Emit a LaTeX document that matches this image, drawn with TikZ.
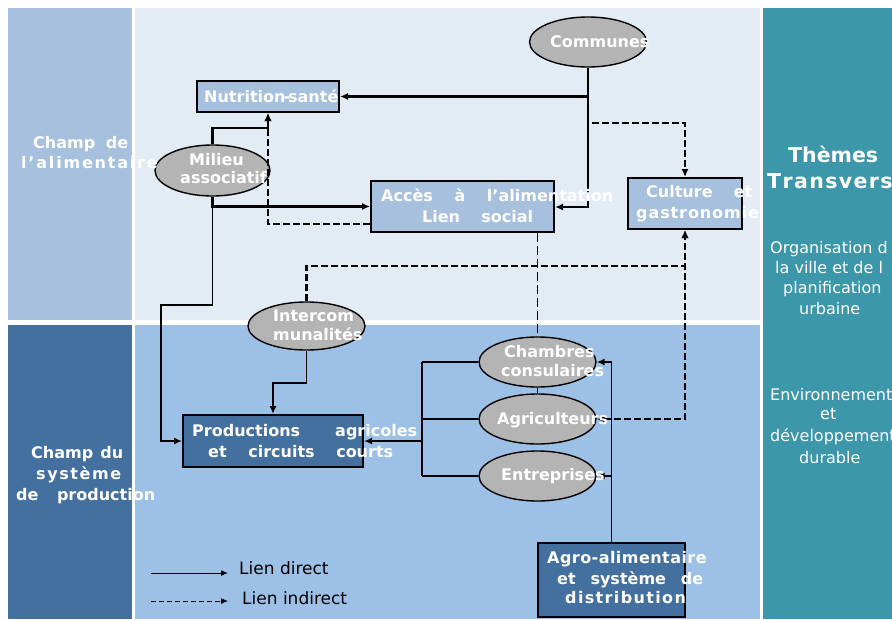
\documentclass[tikz,border=0pt]{standalone}
\usepackage{fontspec}
\setmainfont{DejaVu Sans}
\usetikzlibrary{arrows.meta,shapes.geometric}
\definecolor{cLU}{HTML}{A6C0DE}
\definecolor{cMU}{HTML}{E3EBF5}
\definecolor{cLL}{HTML}{44709F}
\definecolor{cML}{HTML}{9DC0E6}
\definecolor{cRT}{HTML}{3D97AB}
\definecolor{cEL}{HTML}{B4B4B4}
\makeatletter
\newcommand\lsp[2]{\@tfor\lsp@t:=#2\do{\lsp@t\kern#1}\unkern}
\makeatother
\newcommand\spr[2]{\makebox[#1][s]{#2}}
\begin{document}
\begin{tikzpicture}[x=1pt,y=-1pt,
  >={Latex[length=8pt,width=7pt]},
  ell/.style={ellipse, draw=black, line width=1.4pt, fill=cEL, minimum width=117pt, minimum height=50pt, inner sep=0pt},
  ubox/.style={rectangle, draw=black, line width=2pt, fill=cLU, inner sep=0pt},
  dbox/.style={rectangle, draw=black, line width=2pt, fill=cLL, inner sep=0pt},
  lb/.style={text=white, font=\bfseries\fontsize{16}{19}\selectfont, inner sep=0pt, anchor=base west},
  rt/.style={text=white, font=\fontsize{16}{19}\selectfont, inner sep=0pt, anchor=base west},
  ttl/.style={text=white, font=\bfseries\fontsize{20.5}{24}\selectfont, inner sep=0pt, anchor=base west},
  lg/.style={text=black, font=\fontsize{17}{20}\selectfont, inner sep=0pt, anchor=base west},
  lw3/.style={line width=2.4pt},
  lw2/.style={line width=1.7pt},
  lw1/.style={line width=1.1pt},
  dsh/.style={dash pattern=on 7pt off 3pt},
  dshl/.style={dash pattern=on 9pt off 4pt}
]
\useasboundingbox (0,0) rectangle (892,619);
% backgrounds
\fill[white] (0,0) rectangle (892,619);
\fill[cLU] (8,8) rectangle (132,320);
\fill[cMU] (135,8) rectangle (760,320);
\fill[cLL] (8,325) rectangle (132,619);
\fill[cML] (135,325) rectangle (760,619);
\fill[cRT] (763,8) rectangle (892,619);

% nodes
\node[ell] (com) at (588,42) {};
\node[ubox, minimum width=142pt, minimum height=31pt] (nut) at (268,96.5) {};
\node[ell, minimum width=115pt, minimum height=51pt] (mil) at (212.5,170.5) {};
\node[ubox, minimum width=183pt, minimum height=51pt] (acc) at (462.5,206.5) {};
\node[ubox, minimum width=114pt, minimum height=51pt] (cul) at (685,203.5) {};
\node[ell, minimum height=48pt] (int) at (306.5,326) {};
\node[dbox, minimum width=180pt, minimum height=52pt] (pro) at (273,441) {};
\node[ell] (cha) at (537.5,362) {};
\node[ell] (agr) at (537.5,419) {};
\node[ell] (ent) at (537.5,476) {};
\node[dbox, minimum width=147pt, minimum height=74pt] (ago) at (611.5,580) {};

% helper coordinates
\coordinate (j1) at (588,96.5);
\coordinate (bB) at (588,207);
\coordinate (c2) at (588,123);
\coordinate (dN) at (268,128);
\coordinate (fy) at (371,224);
\coordinate (g1) at (212.5,305);
\coordinate (g2) at (161,305);
\coordinate (h1) at (685,266);
\coordinate (bx) at (422,441);
\coordinate (k1) at (273,383);

% connectors
\draw[lw3,->] (com.south) -- (j1) -- (nut.east);
\draw[lw2,->] (j1) -- (bB) -- (bB -| acc.east);
\draw[lw3,dsh,->] (j1) -- (c2) -| (cul.north);
\draw[lw3,->] (mil.north) |- (dN) -- (nut.south);
\draw[lw3,->] (mil.south) |- (acc.west);
\draw[lw3,dsh,->] (acc.west |- fy) -| (nut.south);
\draw[lw2,->] (mil.south) -- (g1) -- (g2) |- (pro.west);
\draw[lw3,dsh,->] (int.north) |- (h1) -- (cul.south);
\draw[lw2,dsh,<->] (agr.east) -| (cul.south);
\draw[lw1,dshl] (cha.north |- acc.south) -- (cha.north);
\draw[lw1] (cha.south) -- (agr.north);
\draw[lw2] (cha.west) -- (cha.west -| bx);
\draw[lw2] (agr.west) -- (agr.west -| bx);
\draw[lw3] (ent.west) -- (ent.west -| bx);
\draw[lw3] (cha.west -| bx) -- (ent.west -| bx);
\draw[lw2,->] (bx) -- (pro.east);
\draw[lw2,->] (int.south) |- (k1) -- (pro.north);
\draw[lw2,->] (ago.north) |- (cha.east);
\draw[lw2,->] (ago.north |- ent.east) -- (ent.east);

% legend
\coordinate (la1) at (151,573);
\coordinate (la2) at (228,573);
\coordinate (lb1) at (151,601);
\coordinate (lb2) at (228,601);
\draw[line width=1pt,-{Latex[length=7pt,width=6pt]}] (la1) -- (la2);
\draw[line width=1pt,dash pattern=on 5pt off 3pt,-{Latex[length=7pt,width=6pt]}] (lb1) -- (lb2);
\node[lg] (tlg1) at (239,574) {Lien direct};
\node[lg] (tlg2) at (242,604) {Lien indirect};

% labels
\node[lb] (tcom) at (550,47) {Communes};
\node[lb] (tnut) at (204,102) {Nutrition\kern-2pt-\kern-2pt santé};
\node[lb] (tmil1) at (189,165) {Milieu};
\node[lb] (tmil2) at (180,183) {associatif};
\node[lb] (tacc1) at (381,201) {\spr{232pt}{Accès à l’alimentation}};
\node[lb] (tacc2) at (422,222) {\spr{111pt}{Lien social}};
\node[lb] (tcul1) at (646,197) {\spr{106pt}{Culture et}};
\node[lb] (tcul2) at (636,218) {\lsp{0.9pt}{gastronomie}};
\node[lb] (tint1) at (273,321) {Intercom};
\node[lb] (tint2) at (273,340) {munalités};
\node[lb] (tpro1) at (192,436) {\spr{225pt}{Productions agricoles}};
\node[lb] (tpro2) at (208,457) {\spr{185pt}{et circuits courts}};
\node[lb] (tcha1) at (504,357) {Chambres};
\node[lb] (tcha2) at (501,376) {consulaires};
\node[lb] (tagr) at (497,424) {Agriculteurs};
\node[lb] (tent) at (501,480) {Entreprises};
\node[lb] (tago1) at (547,563) {\lsp{0.45pt}{Agro-alimentaire}};
\node[lb] (tago2) at (557,584) {\spr{146pt}{et système de}};
\node[lb] (tago3) at (565,603) {\lsp{1.35pt}{distribution}};
\node[lb] (tl1) at (33,148) {\spr{95pt}{Champ de}};
\node[lb] (tl2) at (21,168) {\lsp{1.8pt}{l’alimentaire}};
\node[lb] (tl3) at (31,458) {\spr{92pt}{Champ du}};
\node[lb] (tl4) at (36,479) {\lsp{1.6pt}{système}};
\node[lb] (tl5) at (16,500) {\spr{139pt}{de production}};

\node[ttl] (tr1) at (788,162) {Thèmes};
\node[ttl] (tr2) at (767,188) {\lsp{1.4pt}{Transvers}};
\node[rt] (tr3) at (770,253) {Organisation d};
\node[rt] (tr4) at (775,273) {la ville et de l};
\node[rt] (tr5) at (783,293) {planification};
\node[rt] (tr6) at (799,314) {urbaine};
\node[rt] (tr7) at (770,400) {Environnement};
\node[rt] (tr8) at (820,419) {et};
\node[rt] (tr9) at (770,441) {développement};
\node[rt] (tr10) at (799,463) {durable};
\end{tikzpicture}
\end{document}
